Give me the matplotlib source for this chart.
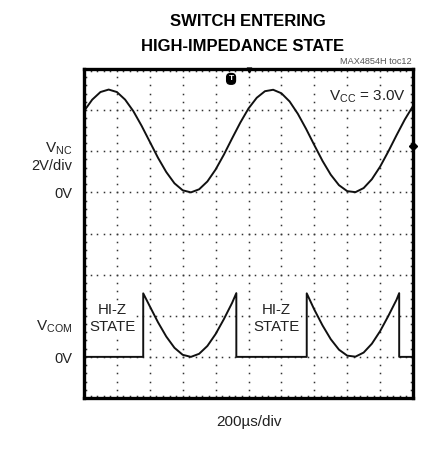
import numpy as np
import matplotlib
matplotlib.use("Agg")
import matplotlib.pyplot as plt

plt.rcParams['font.family'] = ['Liberation Sans', 'DejaVu Sans']
plt.rcParams['mathtext.fontset'] = 'custom'
plt.rcParams['mathtext.rm'] = 'Liberation Sans'

# ---- data (time in divisions of 200us, voltage in V) ----
t_nc = [0.0, 0.25, 0.5, 0.75, 1.0, 1.25, 1.5, 1.75, 2.0, 2.25, 2.5, 2.75, 3.0, 3.25,
        3.5, 3.75, 4.0, 4.25, 4.5, 4.75, 5.0, 5.25, 5.5, 5.75, 6.0, 6.25, 6.5, 6.75,
        7.0, 7.25, 7.5, 7.75, 8.0, 8.25, 8.5, 8.75, 9.0, 9.25, 9.5, 9.75, 10.0]
v_nc = [3.95, 4.51, 4.88, 5.00, 4.88, 4.51, 3.95, 3.24, 2.46, 1.68, 0.99, 0.44, 0.10, 0.00,
        0.15, 0.53, 1.11, 1.83, 2.62, 3.39, 4.08, 4.60, 4.92, 4.99, 4.82, 4.42, 3.82, 3.09,
        2.30, 1.53, 0.86, 0.35, 0.06, 0.01, 0.21, 0.64, 1.25, 1.99, 2.78, 3.54, 4.20]

t_com = [0.0, 1.80, 1.80, 2.0, 2.25, 2.5, 2.75, 3.0, 3.25, 3.5, 3.75, 4.0, 4.25, 4.5, 4.63, 4.63,
         6.77, 6.77, 7.0, 7.25, 7.5, 7.75, 8.0, 8.25, 8.5, 8.75, 9.0, 9.25, 9.5, 9.58, 9.58, 10.0]
v_com = [0.0, 0.0, 3.09, 2.46, 1.68, 0.99, 0.44, 0.10, 0.00, 0.15, 0.53, 1.11, 1.83, 2.62, 3.10, 0.0,
         0.0, 3.09, 2.30, 1.53, 0.86, 0.35, 0.06, 0.01, 0.21, 0.64, 1.25, 1.99, 2.78, 3.10, 0.0, 0.0]

hiz_pos = [0.86, 5.86]
volts_per_div = 2.0
nc_zero_div = 5.0
com_zero_div = 1.0

W, H = 432, 459
fig = plt.figure(figsize=(W / 100, H / 100), dpi=100)
L, R, T, B = 84, 413, 69, 398
ax = fig.add_axes([L / W, 1 - B / H, (R - L) / W, (B - T) / H])
ax.set_xlim(0, 10)
ax.set_ylim(0, 8)
ax.set_xticks([])
ax.set_yticks([])
for s in ax.spines.values():
    s.set_linewidth(2.4)
    s.set_color('black')
    s.set_zorder(10)

# graticule dots
dot_kw = dict(marker='s', ms=1.1, mew=0, color='#333333', ls='none', zorder=1)
ys = np.arange(0, 8.001, 0.2)
xs = np.arange(0, 10.001, 0.2)
for gx in range(0, 11):
    ax.plot(np.full_like(ys, gx), ys, **dot_kw)
for gy in range(0, 9):
    ax.plot(xs, np.full_like(xs, gy), **dot_kw)
edge_kw = dict(dot_kw, ms=1.1)
ax.plot(xs, np.full_like(xs, 0.06), **edge_kw)
ax.plot(xs, np.full_like(xs, 7.94), **edge_kw)
ax.plot(np.full_like(ys, 0.05), ys, **edge_kw)
ax.plot(np.full_like(ys, 9.95), ys, **edge_kw)

ax.plot(t_nc, nc_zero_div + np.array(v_nc) / volts_per_div, color='#111111', lw=1.4, zorder=5)
ax.plot(t_com, com_zero_div + np.array(v_com) / volts_per_div, color='#111111', lw=1.4, zorder=5)

for xp in hiz_pos:
    ax.text(xp, 1.93, 'HI-Z\nSTATE', ha='center', va='center', fontsize=10.8,
            color='#222222', linespacing=1.25,
            bbox=dict(facecolor='white', edgecolor='none', pad=0.5), zorder=4)

ax.text(7.45, 7.25, r'V$_{\mathregular{CC}}$ = 3.0V', ha='left', va='baseline', fontsize=11,
        color='#222222', bbox=dict(facecolor='white', edgecolor='none', pad=0.5), zorder=4)

# trigger markers
ax.text(4.47, 7.76, 'T', ha='center', va='center', fontsize=6, color='white', fontweight='bold',
        bbox=dict(boxstyle='round,pad=0.22,rounding_size=0.45', facecolor='black', edgecolor='black'),
        zorder=6)
ax.plot([5.02], [7.97], marker='v', ms=3.5, color='black', zorder=11, clip_on=False)
ax.plot([10.0], [6.13], marker='D', ms=4.5, color='black', zorder=11, clip_on=False)

def ft(x, y, s, **kw):
    fig.text(x / W, 1 - y / H, s, **kw)

ft(248, 26, 'SWITCH ENTERING', ha='center', va='baseline', fontsize=12.0, fontweight='bold')
ft(243, 51, 'HIGH-IMPEDANCE STATE', ha='center', va='baseline', fontsize=12.0, fontweight='bold')
ft(412, 64, 'MAX4854H toc12', ha='right', va='baseline', fontsize=6.6, color='#555555')

ft(72, 152, r'V$_{\mathregular{NC}}$', ha='right', va='baseline', fontsize=11, color='#222222')
ft(72, 170, '2V/div', ha='right', va='baseline', fontsize=10.5, color='#222222')
ft(72, 198, '0V', ha='right', va='baseline', fontsize=10.5, color='#222222')
ft(72, 330, r'V$_{\mathregular{COM}}$', ha='right', va='baseline', fontsize=11, color='#222222')
ft(72, 363, '0V', ha='right', va='baseline', fontsize=10.5, color='#222222')
ft(249, 426, '200\u00b5s/div', ha='center', va='baseline', fontsize=11, color='#222222')

fig.savefig('out.png', dpi=100)
